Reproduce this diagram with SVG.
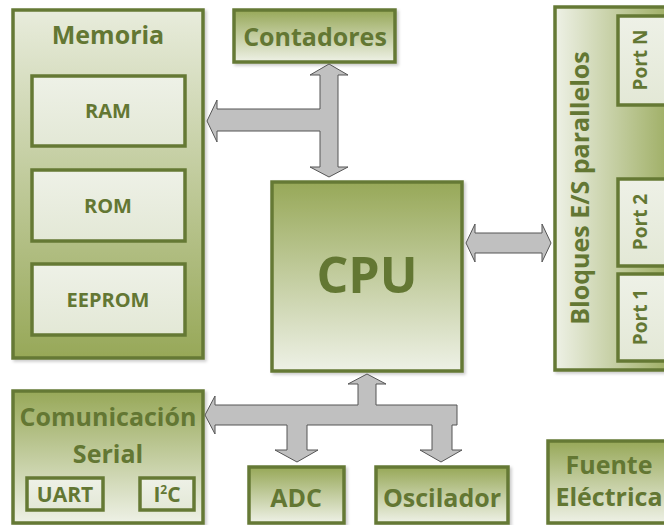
<svg xmlns="http://www.w3.org/2000/svg" width="664" height="525" viewBox="0 0 664 525">
<defs>
<linearGradient id="gDown" x1="0" y1="0" x2="0" y2="1"><stop offset="0" stop-color="#e8ecdc"/><stop offset="1" stop-color="#97a858"/></linearGradient>
<linearGradient id="gUp" x1="0" y1="0" x2="0" y2="1"><stop offset="0" stop-color="#97a858"/><stop offset="1" stop-color="#eef1e6"/></linearGradient>
<linearGradient id="gRight" x1="0" y1="0" x2="1" y2="0"><stop offset="0" stop-color="#eef1e6"/><stop offset="1" stop-color="#97a858"/></linearGradient>
<linearGradient id="gInner" x1="0" y1="0" x2="0" y2="1"><stop offset="0" stop-color="#eef1e7"/><stop offset="1" stop-color="#e3e8d6"/></linearGradient>
<filter id="sh" x="-10%" y="-10%" width="130%" height="130%"><feDropShadow dx="2" dy="2" stdDeviation="1.5" flood-color="#000" flood-opacity="0.2"/></filter>
</defs>
<style>
.box{stroke:#657934;stroke-width:3.5;filter:url(#sh)}
.inner{fill:url(#gInner);stroke:#657934;stroke-width:3.5}
.t{font-family:"Open Sans",Lato,sans-serif;font-weight:bold;fill:#637733;text-anchor:middle}
.big{font-size:25px}
.mid{font-size:20px}
.sm{font-size:21px}
.port{font-size:19px}
.arrow{fill:#c0c0c0;stroke:#555;stroke-width:1;stroke-linejoin:miter}
</style>
<rect width="664" height="525" fill="#fff"/>
<g id="memoria">
<rect class="box" x="13" y="10" width="190" height="348" fill="url(#gDown)"/>
<text class="t big" x="108" y="44">Memoria</text>
</g>
<g id="ram"><rect class="inner" x="32" y="76" width="153" height="70"/><text class="t mid" x="108" y="118">RAM</text></g>
<g id="rom"><rect class="inner" x="32" y="170" width="153" height="71"/><text class="t mid" x="108" y="213">ROM</text></g>
<g id="eeprom"><rect class="inner" x="32" y="264" width="153" height="71"/><text class="t mid" x="108" y="307">EEPROM</text></g>
<g id="contadores">
<rect class="box" x="234" y="10" width="161" height="52" fill="url(#gUp)"/>
<text class="t big" x="315" y="46">Contadores</text>
</g>
<g id="cpu">
<rect class="box" x="272" y="182" width="190" height="189" fill="url(#gUp)"/>
<text class="t" x="367" y="293" font-size="50">CPU</text>
</g>
<g id="bloques">
<rect class="box" x="555" y="7" width="125" height="363" fill="url(#gRight)"/>
<text class="t big" transform="translate(589,188) rotate(-90)">Bloques E/S parallelos</text>
</g>
<g id="portN"><rect class="inner" x="618" y="16" width="55" height="89"/><text class="t port" transform="translate(647,60) rotate(-90)">Port N</text></g>
<g id="port2"><rect class="inner" x="618" y="179" width="55" height="87"/><text class="t port" transform="translate(647,222) rotate(-90)">Port 2</text></g>
<g id="port1"><rect class="inner" x="618" y="274" width="55" height="87"/><text class="t port" transform="translate(647,317) rotate(-90)">Port 1</text></g>
<g id="comunicacion">
<rect class="box" x="13" y="391" width="190" height="132" fill="url(#gUp)"/>
<text class="t big" x="108" y="426">Comunicación</text>
<text class="t big" x="108" y="463">Serial</text>
</g>
<g id="uart"><rect class="inner" x="27" y="478" width="76" height="32"/><text class="t sm" x="65" y="502">UART</text></g>
<g id="i2c"><rect class="inner" x="140" y="478" width="54" height="32"/><text class="t sm" x="167" y="502">I<tspan font-size="12" dy="-8">2</tspan><tspan dy="8">C</tspan></text></g>
<g id="adc">
<rect class="box" x="249" y="467" width="95" height="56" fill="url(#gUp)"/>
<text class="t big" x="296" y="507">ADC</text>
</g>
<g id="oscilador">
<rect class="box" x="376" y="467" width="132" height="56" fill="url(#gUp)"/>
<text class="t big" x="442" y="507">Oscilador</text>
</g>
<g id="fuente">
<rect class="box" x="548" y="441" width="130" height="82" fill="url(#gUp)"/>
<text class="t big" x="609" y="474">Fuente</text>
<text class="t big" x="609" y="506">Eléctrica</text>
</g>
<g id="connectors">
<polygon class="arrow" points="329,64 348,75 338,75 338,167 348,167 329,177 310,167 320,167 320,131 217,131 217,142 207,121 217,100 217,109 320,109 320,75 310,75"/>
<polygon class="arrow" points="466,243 475,224 475,233 542,233 542,224 551,243 542,262 542,253 475,253 475,262"/>
<polygon class="arrow" points="367,374 386,384 376,384 376,405 457,405 457,425 452,425 452,450 462,450 441,462 420,450 432,450 432,425 307,425 307,450 318,450 297,462 275,450 287,450 287,425 215,425 215,434 205,415 215,396 215,405 358,405 358,384 348,384"/>
</g>
</svg>
